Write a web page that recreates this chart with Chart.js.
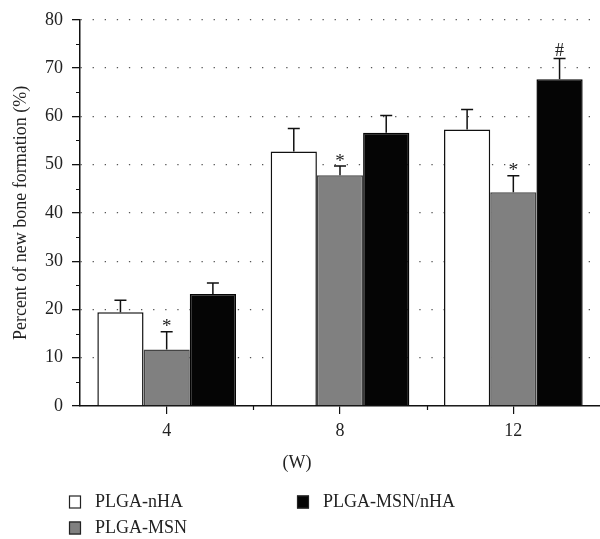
<!DOCTYPE html>
<html>
<head>
<meta charset="utf-8">
<script src="https://cdn.jsdelivr.net/npm/chart.js@4/dist/chart.umd.min.js"></script>
<style>
  html, body { margin: 0; padding: 0; background: #fff; }
  #wrap { width: 600px; height: 539px; }
</style>
</head>
<body>
<div id="wrap"><canvas id="c" width="600" height="539"></canvas></div>
<script>
// Weeks after implantation
const weeks = ['4', '8', '12'];

// Mean percent of new bone formation per group
const plgaNha = [19.4, 52.7, 57.3];
const plgaMsn = [11.7, 47.8, 44.3];
const plgaMsnNha = [23.2, 56.6, 67.7];

// Standard deviations (upper error bars)
const sdNha = [2.5, 4.8, 4.1];
const sdMsn = [3.7, 1.9, 3.4];
const sdMsnNha = [2.3, 3.6, 4.3];

// Significance marks above each bar
const sigNha = ['', '', ''];
const sigMsn = ['*', '*', '*'];
const sigMsnNha = ['', '', '#'];

const yTicks = [0, 10, 20, 30, 40, 50, 60, 70, 80];

const SERIF = "'Liberation Serif', 'DejaVu Serif', serif";

// Upper error bars plus significance symbols
const errorBars = {
  id: 'errorBars',
  afterDatasetsDraw(chart) {
    const ctx = chart.ctx;
    const y = chart.scales.y;
    chart.data.datasets.forEach((ds, di) => {
      const meta = chart.getDatasetMeta(di);
      meta.data.forEach((bar, i) => {
        const top = y.getPixelForValue(ds.data[i] + ds.sd[i]);
        ctx.save();
        ctx.strokeStyle = '#111';
        ctx.lineWidth = 1.5;
        ctx.beginPath();
        ctx.moveTo(bar.x, bar.y);
        ctx.lineTo(bar.x, top);
        ctx.moveTo(bar.x - 6, top);
        ctx.lineTo(bar.x + 6, top);
        ctx.stroke();
        const mark = ds.sig[i];
        if (mark) {
          ctx.fillStyle = '#222';
          ctx.textAlign = 'center';
          if (mark === '*') {
            ctx.font = '19px ' + SERIF;
            ctx.textBaseline = 'top';
            ctx.fillText(mark, bar.x, top - 14);
          } else {
            ctx.font = '18px ' + SERIF;
            ctx.textBaseline = 'alphabetic';
            ctx.fillText(mark, bar.x, top - 2);
          }
        }
        ctx.restore();
      });
    });
  }
};

// Minor tick marks, axis title and two-column legend
const extras = {
  id: 'extras',
  afterDraw(chart) {
    const ctx = chart.ctx;
    const x = chart.scales.x;
    const y = chart.scales.y;
    const area = chart.chartArea;
    ctx.save();
    ctx.strokeStyle = '#111';
    ctx.lineWidth = 1.2;
    ctx.beginPath();
    for (let v = 5; v < 80; v += 10) {
      const py = Math.round(y.getPixelForValue(v)) + 0.5;
      ctx.moveTo(area.left - 4, py);
      ctx.lineTo(area.left, py);
    }
    for (let i = 1; i < weeks.length; i++) {
      const px = Math.round((x.getPixelForValue(i - 1) + x.getPixelForValue(i)) / 2) + 0.5;
      ctx.moveTo(px, area.bottom);
      ctx.lineTo(px, area.bottom + 4);
    }
    ctx.stroke();

    ctx.fillStyle = '#222';
    ctx.font = '18px ' + SERIF;
    ctx.textAlign = 'center';
    ctx.textBaseline = 'middle';
    ctx.fillText('(W)', 297, 463);

    const slots = [[69, 502], [69, 528], [297, 502]];
    chart.data.datasets.forEach((ds, di) => {
      const [lx, ly] = slots[di];
      ctx.fillStyle = ds.backgroundColor;
      ctx.fillRect(lx, ly - 6.5, 12, 13);
      ctx.strokeStyle = '#222';
      ctx.lineWidth = 1.2;
      ctx.strokeRect(lx + 0.5, ly - 6, 11, 12);
      ctx.fillStyle = '#222';
      ctx.textAlign = 'left';
      ctx.textBaseline = 'middle';
      ctx.fillText(ds.label, lx + 26, ly);
    });
    ctx.restore();
  }
};

new Chart(document.getElementById('c'), {
  type: 'bar',
  data: {
    labels: weeks,
    datasets: [
      { label: 'PLGA-nHA', data: plgaNha, sd: sdNha, sig: sigNha,
        backgroundColor: '#ffffff', borderColor: '#111', borderWidth: 1.5 },
      { label: 'PLGA-MSN', data: plgaMsn, sd: sdMsn, sig: sigMsn,
        backgroundColor: '#808080', borderColor: '#444', borderWidth: 1.5 },
      { label: 'PLGA-MSN/nHA', data: plgaMsnNha, sd: sdMsnNha, sig: sigMsnNha,
        backgroundColor: '#050505', borderColor: '#050505', borderWidth: 1.5 }
    ]
  },
  options: {
    responsive: false,
    animation: false,
    layout: { padding: { top: 18, right: 0, left: 0, bottom: 0 } },
    datasets: { bar: { categoryPercentage: 0.8, barPercentage: 1.0, borderSkipped: 'start' } },
    plugins: { legend: { display: false }, tooltip: { enabled: false } },
    scales: {
      x: {
        offset: true,
        afterFit(scale) { scale.height = 133; },
        grid: { offset: false, drawOnChartArea: false, tickLength: 8, color: '#111', lineWidth: 1.2 },
        border: { display: true, color: '#111', width: 1.5 },
        ticks: { color: '#222', font: { family: SERIF, size: 18 }, padding: 6 }
      },
      y: {
        min: 0, max: 80,
        afterFit(scale) { scale.width = 80; },
        afterBuildTicks(scale) { scale.ticks = yTicks.map(v => ({ value: v })); },
        grid: {
          color: ctx => (ctx.tick && ctx.tick.value === 0) ? 'rgba(0,0,0,0)' : '#555',
          lineWidth: 1.3,
          tickColor: '#111',
          tickBorderDash: [],
          tickLength: 8
        },
        border: { display: true, color: '#111', width: 1.5, dash: [1.3, 10.8] },
        ticks: { color: '#222', font: { family: SERIF, size: 18 }, padding: 9 },
        title: {
          display: true,
          text: 'Percent of new bone formation (%)',
          color: '#222',
          font: { family: SERIF, size: 18 },
          padding: { top: 10, bottom: 0 }
        }
      }
    }
  },
  plugins: [errorBars, extras]
});
</script>
</body>
</html>
